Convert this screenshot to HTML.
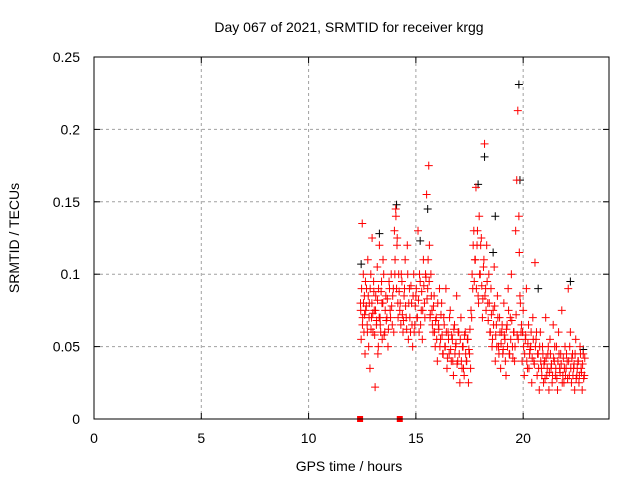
<!DOCTYPE html>
<html><head><meta charset="utf-8"><style>
body{margin:0;background:#fff}
svg text{font-family:"Liberation Sans",sans-serif;font-size:14px;fill:#000}
</style></head><body>
<svg id="chart" width="640" height="480" viewBox="0 0 640 480" xmlns="http://www.w3.org/2000/svg">
<rect width="640" height="480" fill="#fff"/>
<text x="349" y="32" text-anchor="middle">Day 067 of 2021, SRMTID for receiver krgg</text>
<text x="349" y="471" text-anchor="middle">GPS time / hours</text>
<text transform="translate(19,238) rotate(-90)" text-anchor="middle">SRMTID / TECUs</text>
<g id="grid"></g><g id="axes"></g><g id="marks"></g>
<rect x="94" y="57" width="515" height="362" fill="none" stroke="#000" stroke-width="1"/>
</svg>
<script>
const xTicks=[0,5,10,15,20];
const yTicks=[0,0.05,0.1,0.15,0.2,0.25];
const yTickLabels=["0","0.05","0.1","0.15","0.2","0.25"];
const redT=[12.42,12.45,12.5,12.52,12.55,12.58,12.6,12.63,12.66,12.7,12.73,12.76,12.8,12.83,12.86,12.9,12.93,12.96,13.0,13.03,13.06,13.1,13.13,13.16,13.2,13.23,13.26,13.3,13.33,13.36,13.4,13.43,13.46,13.5,13.55,13.6,13.65,13.7,13.75,13.8,13.85,13.9,13.95,14.0,14.03,14.06,14.1,14.13,14.16,14.2,14.25,14.3,14.35,14.4,14.45,14.5,14.55,14.6,14.65,14.7,14.75,14.8,14.85,14.9,14.95,15.0,15.05,15.1,15.15,15.2,15.25,15.3,15.35,15.4,15.45,15.5,15.55,15.6,15.63,15.66,15.7,15.75,15.8,15.85,15.9,15.95,16.0,16.05,16.1,16.15,16.2,16.25,16.3,16.35,16.4,16.45,16.5,16.55,16.6,16.65,16.7,16.75,16.8,16.85,16.9,16.95,17.0,17.05,17.1,17.15,17.2,17.25,17.3,17.35,17.4,17.45,17.5,17.55,17.6,17.65,17.7,17.75,17.8,17.85,17.9,17.95,18.0,18.05,18.1,18.15,18.2,18.25,18.3,18.35,18.4,18.45,18.5,18.55,18.6,18.65,18.7,18.75,18.8,18.85,18.9,18.95,19.0,19.05,19.1,19.15,19.2,19.25,19.3,19.35,19.4,19.45,19.5,19.55,19.6,19.65,19.7,19.75,19.8,19.85,19.9,19.95,20.0,20.05,20.1,20.15,20.2,20.25,20.3,20.35,20.4,20.45,20.5,20.55,20.6,20.65,20.7,20.75,20.8,20.85,20.9,20.95,21.0,21.05,21.1,21.15,21.2,21.25,21.3,21.35,21.4,21.45,21.5,21.55,21.6,21.65,21.7,21.75,21.8,21.85,21.9,21.95,22.0,22.05,22.1,22.15,22.2,22.25,22.3,22.35,22.4,22.45,22.5,22.55,22.6,22.65,22.7,22.75,22.8,22.85,22.9];
const redV=[0.08,0.055,0.135,0.07,0.1,0.06,0.085,0.045,0.075,0.09,0.065,0.11,0.05,0.08,0.035,0.1,0.07,0.125,0.06,0.095,0.075,0.022,0.085,0.065,0.105,0.045,0.09,0.12,0.07,0.06,0.095,0.055,0.08,0.1,0.06,0.085,0.07,0.05,0.095,0.075,0.1,0.065,0.09,0.13,0.11,0.145,0.09,0.125,0.08,0.1,0.075,0.065,0.095,0.06,0.085,0.11,0.07,0.12,0.055,0.09,0.06,0.08,0.05,0.1,0.065,0.085,0.07,0.13,0.06,0.095,0.075,0.055,0.11,0.08,0.1,0.155,0.09,0.175,0.12,0.07,0.1,0.075,0.06,0.085,0.05,0.07,0.04,0.065,0.09,0.055,0.08,0.045,0.07,0.05,0.09,0.035,0.06,0.045,0.075,0.04,0.055,0.03,0.065,0.05,0.085,0.04,0.06,0.025,0.07,0.035,0.05,0.03,0.06,0.04,0.055,0.025,0.045,0.035,0.07,0.09,0.13,0.11,0.16,0.12,0.085,0.14,0.1,0.125,0.07,0.105,0.19,0.09,0.12,0.08,0.1,0.06,0.09,0.05,0.075,0.105,0.04,0.065,0.085,0.05,0.07,0.035,0.06,0.045,0.08,0.055,0.03,0.065,0.09,0.045,0.07,0.1,0.05,0.06,0.04,0.13,0.165,0.213,0.14,0.085,0.06,0.04,0.075,0.03,0.055,0.09,0.035,0.065,0.045,0.05,0.025,0.07,0.04,0.108,0.055,0.03,0.045,0.02,0.06,0.035,0.05,0.025,0.04,0.07,0.03,0.045,0.02,0.055,0.035,0.025,0.065,0.04,0.03,0.05,0.02,0.06,0.035,0.045,0.075,0.03,0.025,0.05,0.035,0.04,0.09,0.03,0.06,0.025,0.045,0.035,0.02,0.055,0.03,0.04,0.025,0.05,0.035,0.02,0.045,0.03];
const redT2=[12.43,12.47,12.51,12.56,12.61,12.65,12.69,12.74,12.78,12.82,12.87,12.91,12.95,12.99,13.04,13.08,13.12,13.17,13.21,13.25,13.29,13.34,13.38,13.42,13.47,13.52,13.57,13.62,13.67,13.72,13.77,13.82,13.87,13.92,13.97,14.02,14.07,14.12,14.17,14.22,14.27,14.32,14.37,14.42,14.47,14.52,14.57,14.62,14.67,14.72,14.77,14.82,14.87,14.92,14.97,15.02,15.07,15.12,15.17,15.22,15.27,15.32,15.37,15.42,15.47,15.52,15.57,15.62,15.67,15.72,15.77,15.82,15.87,15.92,15.97,16.02,16.07,16.12,16.17,16.22,16.27,16.32,16.37,16.42,16.47,16.52,16.57,16.62,16.67,16.72,16.77,16.82,16.87,16.92,16.97,17.02,17.07,17.12,17.17,17.22,17.27,17.32,17.37,17.42,17.47,17.52,17.57,17.62,17.67,17.72,17.77,17.82,17.87,17.92,17.97,18.02,18.07,18.12,18.17,18.22,18.27,18.32,18.37,18.42,18.47,18.52,18.57,18.62,18.67,18.72,18.77,18.82,18.87,18.92,18.97,19.02,19.07,19.12,19.17,19.22,19.27,19.32,19.37,19.42,19.47,19.52,19.57,19.62,19.67,19.72,19.77,19.82,19.87,19.92,19.97,20.02,20.07,20.12,20.17,20.22,20.27,20.32,20.37,20.42,20.47,20.52,20.57,20.62,20.67,20.72,20.77,20.82,20.87,20.92,20.97,21.02,21.07,21.12,21.17,21.22,21.27,21.32,21.37,21.42,21.47,21.52,21.57,21.62,21.67,21.72,21.77,21.82,21.87,21.92,21.97,22.02,22.07,22.12,22.17,22.22,22.27,22.32,22.37,22.42,22.47,22.52,22.57,22.62,22.67,22.72,22.77,22.82,22.87];
const redV2=[0.075,0.09,0.065,0.08,0.072,0.095,0.078,0.06,0.085,0.07,0.09,0.062,0.08,0.073,0.088,0.058,0.075,0.068,0.082,0.05,0.07,0.065,0.088,0.08,0.11,0.058,0.075,0.068,0.083,0.062,0.09,0.07,0.078,0.085,0.06,0.1,0.14,0.12,0.07,0.088,0.08,0.1,0.072,0.068,0.09,0.078,0.062,0.1,0.08,0.07,0.092,0.065,0.085,0.06,0.078,0.09,0.07,0.082,0.1,0.065,0.088,0.075,0.092,0.07,0.098,0.083,0.11,0.095,0.072,0.085,0.065,0.078,0.06,0.068,0.055,0.08,0.062,0.05,0.072,0.058,0.045,0.065,0.05,0.06,0.042,0.055,0.07,0.048,0.058,0.04,0.062,0.045,0.052,0.038,0.06,0.045,0.055,0.04,0.05,0.035,0.058,0.045,0.04,0.055,0.048,0.062,0.075,0.1,0.12,0.095,0.11,0.09,0.13,0.08,0.1,0.12,0.092,0.083,0.11,0.085,0.075,0.095,0.068,0.08,0.06,0.072,0.055,0.065,0.078,0.058,0.05,0.07,0.045,0.06,0.052,0.065,0.048,0.058,0.04,0.062,0.05,0.075,0.045,0.055,0.068,0.042,0.06,0.05,0.072,0.058,0.055,0.115,0.08,0.065,0.06,0.05,0.045,0.058,0.04,0.052,0.035,0.048,0.06,0.042,0.055,0.038,0.05,0.06,0.045,0.035,0.05,0.04,0.03,0.045,0.038,0.028,0.042,0.035,0.05,0.032,0.045,0.038,0.03,0.042,0.05,0.035,0.028,0.04,0.045,0.032,0.038,0.025,0.042,0.035,0.03,0.045,0.028,0.04,0.05,0.035,0.042,0.03,0.038,0.045,0.028,0.035,0.04,0.03,0.045,0.032,0.038,0.028,0.042,0.035,0.03,0.04,0.025,0.035];
const blackT=[12.45,13.3,14.1,15.2,15.55,17.9,18.2,18.6,18.7,19.8,19.85,20.7,22.2,22.8];
const blackV=[0.107,0.128,0.148,0.123,0.145,0.162,0.181,0.115,0.14,0.231,0.165,0.09,0.095,0.048];
const squareT=[12.4,14.25];
const squareV=[0,0];
const X=t=>94+t*(515/24), Y=v=>419-v*(362/0.25);
const NS="http://www.w3.org/2000/svg";
function mk(tag,attrs,parent){const e=document.createElementNS(NS,tag);for(const k in attrs)e.setAttribute(k,attrs[k]);document.getElementById(parent).appendChild(e);return e;}
xTicks.forEach(t=>{const x=X(t);
 if(t>0){const g=mk('line',{x1:x,x2:x,y1:57,y2:419,stroke:'#a0a0a0','stroke-dasharray':'3,3'},'grid');}
 const k=mk('line',{x1:x,x2:x,y1:419,y2:413,stroke:'#000'},'axes');
 const k2=mk('line',{x1:x,x2:x,y1:57,y2:63,stroke:'#000'},'axes');
 const l=mk('text',{x:x,y:443,'text-anchor':'middle'},'axes');l.textContent=String(t);});
yTicks.forEach((v,i)=>{const y=Y(v);
 if(i>0&&i<yTicks.length-1){const g=mk('line',{x1:94,x2:609,y1:y,y2:y,stroke:'#a0a0a0','stroke-dasharray':'3,3'},'grid');}
 const k=mk('line',{x1:94,x2:100,y1:y,y2:y,stroke:'#000'},'axes');
 const k2=mk('line',{x1:603,x2:609,y1:y,y2:y,stroke:'#000'},'axes');
 const l=mk('text',{x:80,y:y+5,'text-anchor':'end'},'axes');l.textContent=yTickLabels[i];});
function plus(t,v,c,name){const x=X(t),y=Y(v);
 const p=mk('path',{d:`M${x-4},${y}H${x+4}M${x},${y-4}V${y+4}`,stroke:c,'stroke-width':1,fill:'none'},'marks');
 
 }
blackT.forEach((t,i)=>plus(t,blackV[i],'#000','black-point'));
redT.forEach((t,i)=>plus(t,redV[i],'#f00','red-point'));
redT2.forEach((t,i)=>plus(t,redV2[i],'#f00','red-point'));
squareT.forEach((t,i)=>{const s=mk('rect',{x:X(t)-3,y:Y(squareV[i])-3,width:6,height:6,fill:'#f00'},'marks');
 
 });
</script>
</body></html>
